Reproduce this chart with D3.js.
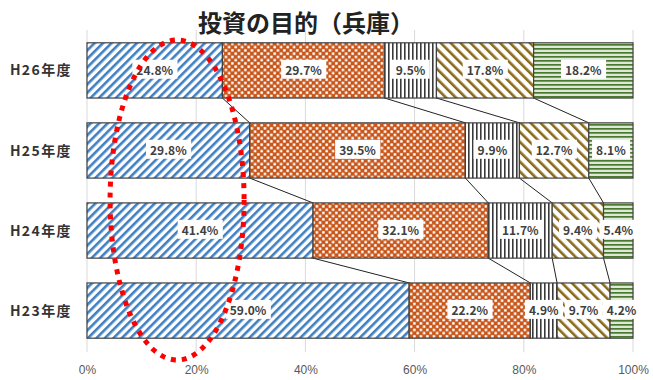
<!DOCTYPE html>
<html>
<head>
<meta charset="utf-8">
<script src="https://cdn.jsdelivr.net/npm/d3@7"></script>
<style>
  html, body { margin: 0; padding: 0; background: #fff; }
  svg { display: block; font-family: "Noto Sans CJK JP", "Noto Sans", sans-serif; }
</style>
</head>
<body>
<svg id="chart" width="653" height="380"></svg>
<script>
// Survey years (top to bottom) and share of each investment purpose (%)
const years = ["H26年度", "H25年度", "H24年度", "H23年度"];
const purpose1 = [24.8, 29.8, 41.4, 59.0];
const purpose2 = [29.7, 39.5, 32.1, 22.2];
const purpose3 = [9.5, 9.9, 11.7, 4.9];
const purpose4 = [17.8, 12.7, 9.4, 9.7];
const purpose5 = [18.2, 8.1, 5.4, 4.2];
const tickValues = [0, 20, 40, 60, 80, 100];
const title = "投資の目的（兵庫）";

const seriesList = [purpose1, purpose2, purpose3, purpose4, purpose5];

const svg = d3.select("#chart");

const x = d3.scaleLinear().domain([0, 100]).range([87, 633]);
const y = d3.scaleBand().domain(years).range([30, 351]).paddingInner(0.31).paddingOuter(0.16);

// fill patterns for the five segments
const defs = svg.append("defs");

const p1 = defs.append("pattern").attr("id", "pat1").attr("patternUnits", "userSpaceOnUse")
  .attr("width", 6).attr("height", 6).attr("patternTransform", "rotate(45)");
p1.append("rect").attr("width", 6).attr("height", 6).attr("fill", "#fff");
p1.append("rect").attr("x", 0).attr("width", 2.6).attr("height", 6).attr("fill", "#3f7fc2");

const p2 = defs.append("pattern").attr("id", "pat2").attr("patternUnits", "userSpaceOnUse")
  .attr("width", 6.5).attr("height", 6.5);
p2.append("rect").attr("width", 6.5).attr("height", 6.5).attr("fill", "#c8561a");
p2.append("rect").attr("x", 0.4).attr("y", 0.4).attr("width", 2.5).attr("height", 2.5).attr("fill", "#fff");
p2.append("rect").attr("x", 3.65).attr("y", 3.65).attr("width", 2.5).attr("height", 2.5).attr("fill", "#fff");

const p3 = defs.append("pattern").attr("id", "pat3").attr("patternUnits", "userSpaceOnUse")
  .attr("width", 4).attr("height", 4);
p3.append("rect").attr("width", 4).attr("height", 4).attr("fill", "#fff");
p3.append("rect").attr("x", 0).attr("width", 1.6).attr("height", 4).attr("fill", "#3a3a3a");

const p4 = defs.append("pattern").attr("id", "pat4").attr("patternUnits", "userSpaceOnUse")
  .attr("width", 7).attr("height", 7).attr("patternTransform", "rotate(-45)");
p4.append("rect").attr("width", 7).attr("height", 7).attr("fill", "#fff");
p4.append("rect").attr("x", 0).attr("width", 2.6).attr("height", 7).attr("fill", "#8a6a1a");

const p5 = defs.append("pattern").attr("id", "pat5").attr("patternUnits", "userSpaceOnUse")
  .attr("width", 4).attr("height", 4);
p5.append("rect").attr("width", 4).attr("height", 4).attr("fill", "#dfe8d8");
p5.append("rect").attr("y", 0).attr("width", 4).attr("height", 1.7).attr("fill", "#4a7a30");

const fills = ["url(#pat1)", "url(#pat2)", "url(#pat3)", "url(#pat4)", "url(#pat5)"];

// vertical gridlines
svg.append("g").selectAll("line").data(tickValues).join("line")
  .attr("x1", d => x(d)).attr("x2", d => x(d))
  .attr("y1", 30).attr("y2", 352)
  .attr("stroke", "#d9d9d9").attr("stroke-width", 1);

// stacked rows
const rows = years.map((yr, i) => {
  let acc = 0;
  return seriesList.map((s, k) => {
    const seg = { year: yr, k, v: s[i], x0: acc, x1: acc + s[i] };
    acc += s[i];
    return seg;
  });
});

// series connector lines between consecutive bars
const conn = svg.append("g");
for (let i = 0; i < years.length - 1; i++) {
  for (let k = 0; k < seriesList.length - 1; k++) {
    conn.append("line")
      .attr("x1", x(rows[i][k].x1)).attr("y1", y(years[i]) + y.bandwidth())
      .attr("x2", x(rows[i + 1][k].x1)).attr("y2", y(years[i + 1]))
      .attr("stroke", "#222").attr("stroke-width", 1);
  }
}

const segs = rows.flat();
svg.append("g").selectAll("rect").data(segs).join("rect")
  .attr("x", d => x(d.x0)).attr("y", d => y(d.year))
  .attr("width", d => x(d.x1) - x(d.x0)).attr("height", y.bandwidth())
  .attr("fill", d => fills[d.k])
  .attr("stroke", "#404040").attr("stroke-width", 1.2);

// value labels with white boxes
const lab = svg.append("g").selectAll("g").data(segs).join("g")
  .attr("transform", d => `translate(${x((d.x0 + d.x1) / 2)},${y(d.year) + y.bandwidth() / 2})`);
lab.append("text")
  .attr("text-anchor", "middle").attr("dy", "0.36em")
  .attr("font-size", 12).attr("font-weight", "bold").attr("fill", "#404040")
  .text(d => d.v.toFixed(1) + "%");
lab.each(function() {
  const g = d3.select(this);
  const b = g.select("text").node().getBBox();
  g.insert("rect", "text")
    .attr("x", b.x - 4).attr("y", b.y - 1)
    .attr("width", b.width + 8).attr("height", b.height + 2)
    .attr("fill", "#fff");
});

// category labels
svg.append("g").selectAll("text").data(years).join("text")
  .attr("x", 72).attr("y", d => y(d) + y.bandwidth() / 2)
  .attr("dy", "0.36em").attr("text-anchor", "end")
  .attr("font-size", 14).attr("font-weight", "bold").attr("fill", "#333")
  .attr("letter-spacing", 1.4)
  .text(d => d);

// x axis
const xAxis = d3.axisBottom(x).tickValues(tickValues).tickFormat(d => d + "%").tickSize(0).tickPadding(0);
const ax = svg.append("g").attr("transform", "translate(0,365)").call(xAxis);
ax.select(".domain").remove();
ax.selectAll("text").attr("font-size", 12).attr("fill", "#595959")
  .attr("font-family", "'Liberation Sans', sans-serif");

// title
svg.append("text").attr("x", 306).attr("y", 32).attr("text-anchor", "middle")
  .attr("font-size", 24).attr("font-weight", "bold").attr("fill", "#222")
  .text(title);

// highlight ellipse around the first purpose
svg.append("ellipse")
  .attr("cx", x(16.5)).attr("cy", 200).attr("rx", 67).attr("ry", 160)
  .attr("fill", "none").attr("stroke", "#ff0000").attr("stroke-width", 5)
  .attr("stroke-dasharray", "5 6");
</script>
</body>
</html>
